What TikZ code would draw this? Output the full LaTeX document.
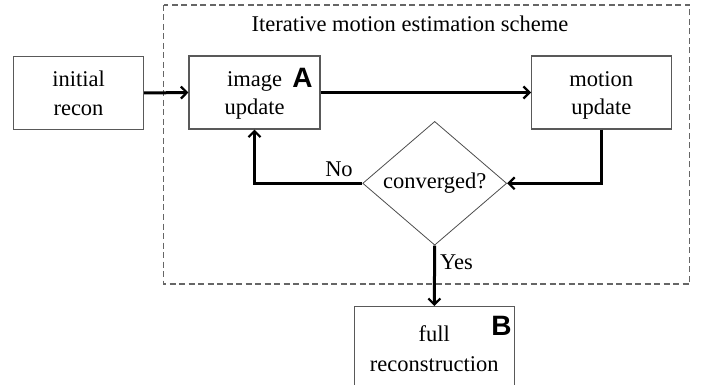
\documentclass[tikz,border=0pt]{standalone}
\usepackage{fontspec}
\setmainfont{Liberation Serif}
\newfontfamily\lettersf{Liberation Sans}
\usetikzlibrary{shapes.geometric,arrows.meta}
\newcommand{\topstrut}{\rule{0pt}{21pt}}
\newcommand{\botstrut}{\rule[-4.5pt]{0pt}{4.5pt}}
\begin{document}
\begin{tikzpicture}[x=1pt,y=-1pt,
  txt/.style={font=\fontsize{22.5}{28.5}\selectfont},
  box/.style={txt,draw=black!65,line width=1.1pt,align=center,inner sep=0pt},
  flow/.style={line width=3pt,-{Straight Barb[length=6pt,width=12pt,line width=2.2pt]}},
  big/.style={font=\lettersf\bfseries\fontsize{28}{30}\selectfont,inner sep=0pt}]
\useasboundingbox (0,0) rectangle (702,385);
\draw[draw=black!60,line width=1.2pt,dash pattern=on 6pt off 3.5pt] (163.5,5) rectangle (689.5,284);
\node[txt,anchor=base] (title) at (410,32) {Iterative motion estimation scheme};
\node[box,minimum width=130pt,minimum height=73pt] (init) at (78.5,93) {\topstrut initial\\recon\botstrut};
\node[box,minimum width=131pt,minimum height=73pt] (img) at (254.5,92.5) {\topstrut image\\update\botstrut};
\node[big] (A) at (302.5,78) {A};
\node[box,minimum width=139.5pt,minimum height=73pt] (mot) at (601.3,92.5) {\topstrut motion\\update\botstrut};
\node[txt,draw=black!70,line width=0.8pt,diamond,minimum width=144pt,minimum height=122pt,inner sep=0pt] (conv) at (434.7,183.3) {converged?};
\node[box,minimum width=160pt,minimum height=84pt,anchor=north] (full) at (434.3,306) {\topstrut full\\[1.5pt]reconstruction\botstrut};
\node[big] (B) at (501.5,325.5) {B};
\draw[flow] (init.east) -- (img.west);
\draw[flow] (img.east) -- (mot.west);
\draw[flow] (mot.south) -- (mot.south |- conv.east) -- (conv.east);
\draw[flow] (conv.west) -| (img.south);
\draw[flow] (conv.south) -- (full.north);
\node[txt,anchor=base] (no) at (339,176.7) {No};
\node[txt,anchor=base] (yes) at (456.5,269.3) {Yes};
\end{tikzpicture}
\end{document}
